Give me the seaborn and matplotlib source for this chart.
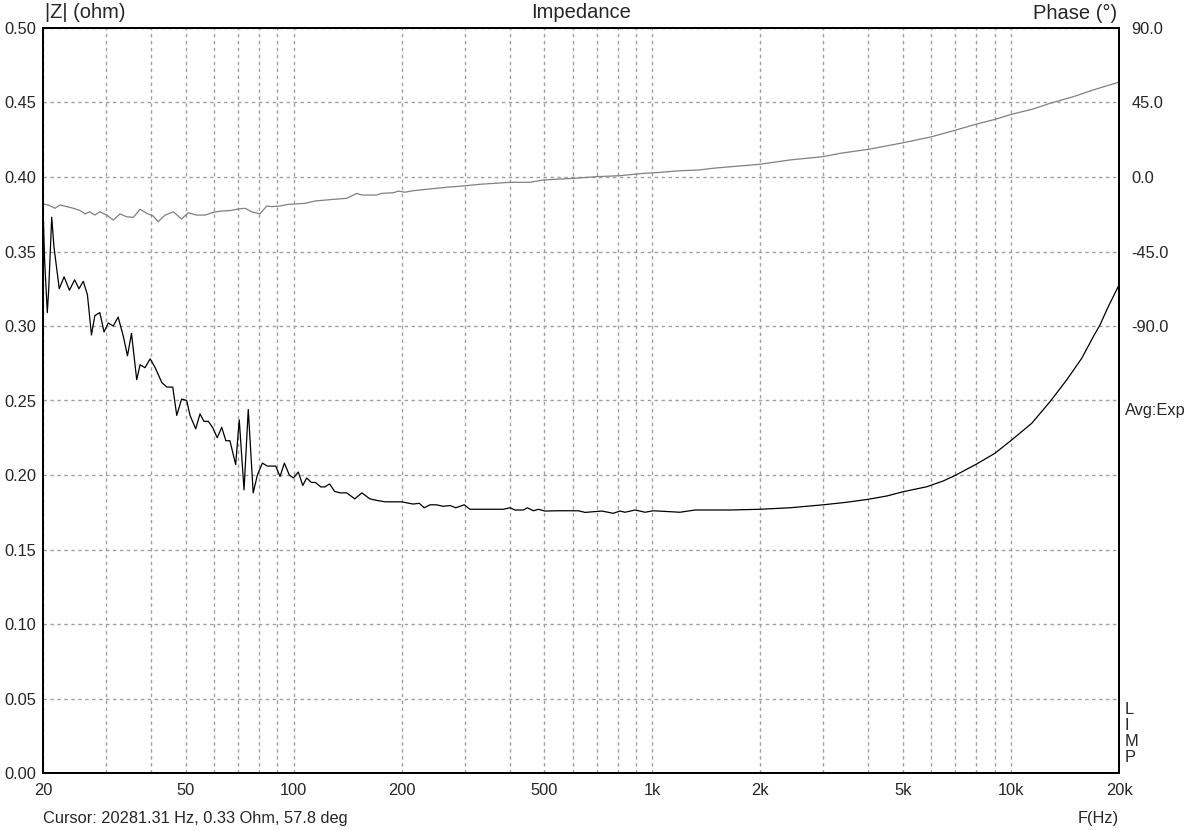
import matplotlib
matplotlib.use("Agg")
import matplotlib.pyplot as plt
import seaborn as sns
import pandas as pd

# impedance magnitude |Z| (ohm)
imp_freq = [20.0, 20.2, 20.56, 20.75, 21.15, 21.46, 22.2, 22.9, 23.7, 24.5, 25.2, 25.9,
            26.6, 27.3, 27.9, 28.8, 29.6, 30.4, 31.4, 32.4, 33.5, 34.4, 35.3, 36.5,
            37.3, 38.5, 39.8, 41.1, 42.9, 44.3, 46.0, 47.2, 48.7, 50.3, 51.4, 53.3,
            54.8, 56.2, 57.8, 59.4, 61.2, 63.0, 64.7, 66.4, 68.9, 70.5, 72.7, 74.7,
            77.1, 79.2, 81.8, 84.4, 89.1, 91.6, 94.2, 97.2, 99.8, 103, 106, 108.7,
            112, 115, 119, 122, 126, 130, 135, 140.5, 148, 155, 163, 170, 180, 200,
            215, 224, 231, 240, 250, 261, 273, 283, 299, 310, 360, 384, 401, 414,
            437, 448, 466, 481, 502, 541, 622, 649, 723, 778, 812, 839, 895, 954,
            1006, 1194, 1315, 1646, 1996, 2418, 2996, 3482, 4000, 4502, 5008, 5818,
            6474, 7024, 8022, 9020, 10042, 11420, 12844, 14294, 15740, 16956, 17700,
            18668, 20000]
imp_val = [0.381, 0.345, 0.309, 0.325, 0.373, 0.353, 0.325, 0.333, 0.324, 0.331, 0.325, 0.330,
           0.321, 0.294, 0.307, 0.309, 0.296, 0.302, 0.300, 0.306, 0.293, 0.280, 0.295, 0.264,
           0.274, 0.272, 0.278, 0.272, 0.262, 0.259, 0.259, 0.240, 0.251, 0.250, 0.240, 0.231,
           0.241, 0.236, 0.236, 0.232, 0.225, 0.232, 0.223, 0.223, 0.207, 0.237, 0.190, 0.244,
           0.188, 0.200, 0.208, 0.206, 0.206, 0.199, 0.208, 0.200, 0.198, 0.202, 0.193, 0.198,
           0.195, 0.195, 0.192, 0.192, 0.194, 0.189, 0.188, 0.188, 0.184, 0.188, 0.184, 0.183,
           0.182, 0.182, 0.1805, 0.181, 0.178, 0.180, 0.180, 0.179, 0.1795, 0.178, 0.180,
           0.177, 0.177, 0.177, 0.178, 0.1765, 0.1765, 0.178, 0.176, 0.177, 0.1758, 0.176,
           0.176, 0.1749, 0.1758, 0.1743, 0.1758, 0.175, 0.1765, 0.175, 0.176, 0.175, 0.1765,
           0.1765, 0.177, 0.178, 0.180, 0.1817, 0.1837, 0.1859, 0.1888, 0.1921, 0.196, 0.200,
           0.2074, 0.2146, 0.2235, 0.2347, 0.2492, 0.2638, 0.2783, 0.2928, 0.3007, 0.313,
           0.3275]

# phase (deg)
ph_freq = [20.0, 20.69, 21.6, 22.3, 23.3, 24.3, 25.4, 26.2, 27.0, 27.9, 28.8, 30.1, 31.4,
           32.8, 34.2, 35.7, 37.3, 38.9, 40.6, 41.9, 43.8, 46.2, 48.7, 50.8, 53.6, 56.6,
           59.7, 63.0, 66.4, 70.1, 73.2, 76.3, 80.5, 84.1, 86.8, 91.6, 96.6, 100.8, 107.6,
           114.7, 129, 140.5, 149.9, 155, 170, 176, 189.8, 195.7, 204.3, 215, 240, 267, 297,
           330.6, 401, 456, 496.7, 602, 699.7, 812, 904.6, 943.6, 1051, 1194, 1343, 1479,
           1996, 2418, 2996, 3335, 4000, 5008, 6005, 7024, 8022, 9020, 10042, 11536, 12844,
           14914, 16956, 20000]
ph_val = [-16.3, -16.9, -18.9, -16.9, -17.9, -18.9, -20.3, -22.3, -21.0, -23.0, -21.0, -23.0,
          -26.0, -22.3, -24.0, -24.4, -19.5, -21.9, -23.6, -27.0, -23.0, -21.0, -25.4, -21.6,
          -23.0, -23.0, -21.3, -20.5, -20.3, -19.3, -18.9, -21.0, -22.3, -17.5, -17.9, -17.5,
          -16.5, -16.3, -15.9, -14.5, -13.5, -12.9, -9.9, -10.9, -10.9, -9.9, -9.5, -8.5,
          -9.2, -8.3, -7.2, -6.2, -5.4, -4.4, -3.2, -3.2, -1.8, -0.8, 0.2, 0.8, 1.8, 2.2, 2.8,
          3.8, 4.2, 5.3, 7.7, 10.3, 12.3, 14.3, 16.7, 20.7, 24.3, 28.4, 32.0, 34.8, 37.9,
          41.1, 44.5, 48.5, 52.6, 57.3]

x_ticks = [20, 50, 100, 200, 500, 1000, 2000, 5000, 10000, 20000]
x_labels = ["20", "50", "100", "200", "500", "1k", "2k", "5k", "10k", "20k"]
x_grid = [20, 30, 40, 50, 60, 70, 80, 90, 100, 200, 300, 400, 500, 600, 700, 800, 900,
          1000, 2000, 3000, 4000, 5000, 6000, 7000, 8000, 9000, 10000, 20000]
z_ticks = [0.0, 0.05, 0.10, 0.15, 0.20, 0.25, 0.30, 0.35, 0.40, 0.45, 0.50]
ph_ticks = [90, 45, 0, -45, -90]

sns.set_style("white")
plt.rcParams['font.family'] = ['Liberation Sans', 'DejaVu Sans']
plt.rcParams['axes.unicode_minus'] = False

imp = pd.DataFrame({"f": imp_freq, "z": imp_val})
ph = pd.DataFrame({"f": ph_freq, "p": ph_val})

FS = 11.8     # tick labels / notes
HFS = 14.5    # header texts

fig = plt.figure(figsize=(11.88, 8.3), dpi=100)
ax = fig.add_axes([43 / 1188, 57 / 830, 1076 / 1188, 745 / 830])
ax2 = ax.twinx()

sns.lineplot(data=ph, x="f", y="p", ax=ax2, color="#808080", lw=0.9, estimator=None)
sns.lineplot(data=imp, x="f", y="z", ax=ax, color="black", lw=0.9, estimator=None)

ax.set_xscale("log")
ax.set_xlim(20, 20000)
ax.set_ylim(0, 0.5)
ax2.set_ylim(-360, 90)

ax.set_xticks(x_grid, minor=True)
ax.set_xticks(x_ticks)
ax.set_xticklabels(x_labels, fontsize=FS)
ax.xaxis.set_minor_formatter(matplotlib.ticker.NullFormatter())
ax.set_yticks(z_ticks)
ax.set_yticklabels([f"{v:.2f}" for v in z_ticks], fontsize=FS)
ax2.set_yticks(ph_ticks)
ax2.set_yticklabels([f"{v:.1f}" for v in ph_ticks], fontsize=FS)

ax.tick_params(axis="x", which="both", length=0, pad=7)
ax.tick_params(axis="y", length=0, pad=5)
ax2.tick_params(axis="y", length=0, pad=9)

gl = dict(color="#a0a0a0", lw=1.0, linestyle=(0, (2.5, 2.5)))
ax.grid(True, which="both", axis="x", **gl)
ax.grid(True, which="major", axis="y", **gl)
ax2.grid(False)

ax.set_xlabel("")
ax.set_ylabel("")
ax2.set_ylabel("")
for a in (ax, ax2):
    for s in a.spines.values():
        s.set_color("black")
        s.set_linewidth(1.3)

fig.text(45 / 1188, 1 - 13 / 830, "|Z| (ohm)", fontsize=HFS, ha="left", va="center")
fig.text(581 / 1188, 1 - 13 / 830, "Impedance", fontsize=HFS, ha="center", va="center")
fig.text(1117 / 1188, 1 - 13 / 830, "Phase (°)", fontsize=HFS, ha="right", va="center")
fig.text(1125 / 1188, 1 - 410 / 830, "Avg:Exp", fontsize=FS, ha="left", va="center")
for i, ch in enumerate("LIMP"):
    fig.text(1125 / 1188, 1 - (709 + i * 16.3) / 830, ch, fontsize=FS, ha="left", va="center")
fig.text(43 / 1188, 1 - 818 / 830, "Cursor: 20281.31 Hz, 0.33 Ohm, 57.8 deg", fontsize=FS,
         ha="left", va="center")
fig.text(1119 / 1188, 1 - 818 / 830, "F(Hz)", fontsize=FS, ha="right", va="center")

fig.savefig("out.png", dpi=100, facecolor="white")
